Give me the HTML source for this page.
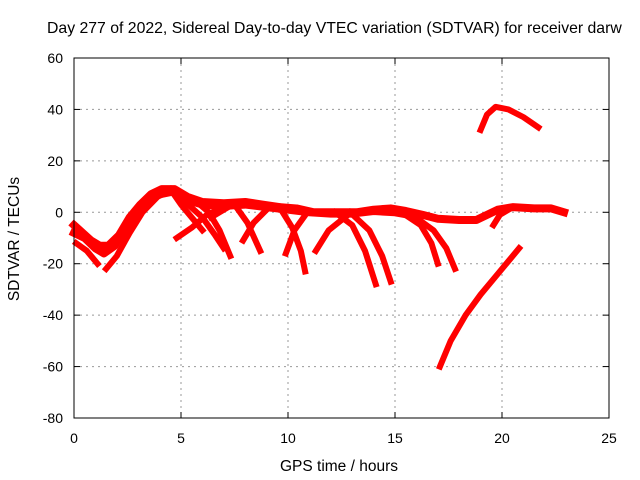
<!DOCTYPE html>
<html><head><meta charset="utf-8"><style>
body{margin:0;background:#fff}
svg{display:block;font-family:"Liberation Sans",sans-serif}
</style></head><body>
<svg id="chart" width="640" height="480">
<text x="47" y="33" font-size="15.8" text-anchor="start">Day 277 of 2022, Sidereal Day-to-day VTEC variation (SDTVAR) for receiver darw</text>
<text x="339" y="471" font-size="15.5" text-anchor="middle">GPS time / hours</text>
<text transform="translate(19,239) rotate(-90)" font-size="15.5" text-anchor="middle">SDTVAR / TECUs</text>
<g id="grid"></g><g id="ticks"></g><g id="marks"></g>
<rect x="74" y="58" width="535" height="360" fill="none" stroke="#000" stroke-width="1"/>
</svg>
<script>
const xTicks=[0,5,10,15,20,25];
const yTicks=[60,40,20,0,-20,-40,-60,-80];
const track1=[[0,-5],[0.4,-8],[0.8,-11],[1.2,-13],[1.6,-13],[2.1,-9],[2.6,-2],[3.1,3],[3.6,7],[4.1,9],[4.7,9],[5.3,6],[6,4],[7,3.5],[8,4],[8.8,3],[9.6,2],[10.4,1.5],[11.2,0],[12.2,0],[13.2,0],[14,1],[14.8,1.5],[15.5,0.5],[16.3,-1],[17,-2.5],[18,-3],[18.8,-3],[19.3,-1],[19.8,1],[20.5,2],[21.5,1.5],[22.3,1.5],[22.9,0]];
const track2=[[0,-8],[0.5,-10],[1,-14],[1.4,-16],[1.9,-13],[2.4,-6],[2.9,0],[3.5,5],[4,7],[4.6,8],[5.2,5],[6,3],[7,2.5],[8,3],[9,2],[10,1],[11,0],[12,-0.5],[13,-0.5],[14,0.5],[15,0],[16,-1.5]];
const track3=[[0.1,-12],[0.6,-15],[1.1,-20]];
const track4=[[1.5,-22],[2,-17],[2.6,-8],[3.2,0],[3.9,6],[4.4,8]];
const track5=[[4.5,9],[5,3],[5.5,-2],[6,-7]];
const track6=[[4.8,-10],[5.5,-6],[6.2,-1],[7,2]];
const track7=[[5.6,5],[6.3,0],[6.8,-7],[7.3,-17]];
const track8=[[5.2,4],[6,-2],[6.6,-9],[7,-14]];
const track9=[[6.4,-2],[7.2,2],[8,4]];
const track10=[[7.9,-11],[8.4,-4],[9,1]];
const track11=[[7.5,3],[8.1,-4],[8.7,-15]];
const track12=[[9.9,-16],[10.3,-7],[10.9,0]];
const track13=[[9.6,2],[10.2,-6],[10.6,-15],[10.8,-23]];
const track14=[[11.3,-15],[11.9,-7],[12.8,-1]];
const track15=[[12.2,0],[13,-5],[13.6,-15],[14.1,-28]];
const track16=[[12.9,0],[13.8,-7],[14.4,-17],[14.8,-27]];
const track17=[[15.3,0],[16.2,-5],[16.7,-12],[17,-20]];
const track18=[[15.8,-1],[16.8,-7],[17.4,-14],[17.8,-22]];
const track19=[[19.6,-5],[19.9,-1],[20.3,1]];
const track20=[[17.1,-60],[17.6,-50],[18.3,-40],[19,-32],[19.8,-24],[20.8,-14]];
const track21=[[19,32],[19.3,38],[19.7,41],[20.3,40],[21,37],[21.7,33]];
const tracks=[track1,track2,track3,track4,track5,track6,track7,track8,track9,track10,track11,track12,track13,track14,track15,track16,track17,track18,track19,track20,track21];
const X=v=>74+v*535/25, Y=v=>58+(60-v)*360/140;
const NS='http://www.w3.org/2000/svg';
const g=document.getElementById('grid'),t=document.getElementById('ticks'),m=document.getElementById('marks');
function mk(p,tag,a){const e=document.createElementNS(NS,tag);for(const k in a)e.setAttribute(k,a[k]);p.appendChild(e);return e;}
xTicks.forEach(v=>{
 if(v>0&&v<25){const l=mk(g,'line',{x1:X(v),x2:X(v),y1:58,y2:418,stroke:'#999','stroke-dasharray':'2,4'});
 
 }
 mk(t,'line',{x1:X(v),x2:X(v),y1:418,y2:412,stroke:'#000'});mk(t,'line',{x1:X(v),x2:X(v),y1:58,y2:64,stroke:'#000'});
 const s=mk(t,'text',{x:X(v),y:443,'font-size':14,'text-anchor':'middle'});s.textContent=v;
 
 
});
yTicks.forEach(v=>{
 if(v>-80&&v<60){const l=mk(g,'line',{x1:74,x2:609,y1:Y(v),y2:Y(v),stroke:'#999','stroke-dasharray':'2,4'});
 
 }
 mk(t,'line',{x1:74,x2:80,y1:Y(v),y2:Y(v),stroke:'#000'});mk(t,'line',{x1:609,x2:603,y1:Y(v),y2:Y(v),stroke:'#000'});
 const s=mk(t,'text',{x:63,y:Y(v)+5,'font-size':14,'text-anchor':'end'});s.textContent=v;
 
 
});
tracks.forEach((tr,i)=>{
 const p=mk(m,'polyline',{points:tr.map(d=>X(d[0])+','+Y(d[1])).join(' '),fill:'none',stroke:'#f00','stroke-width':i<2?8:6,'stroke-linejoin':'round','stroke-linecap':'square'});
 
 
});
</script>
</body></html>
